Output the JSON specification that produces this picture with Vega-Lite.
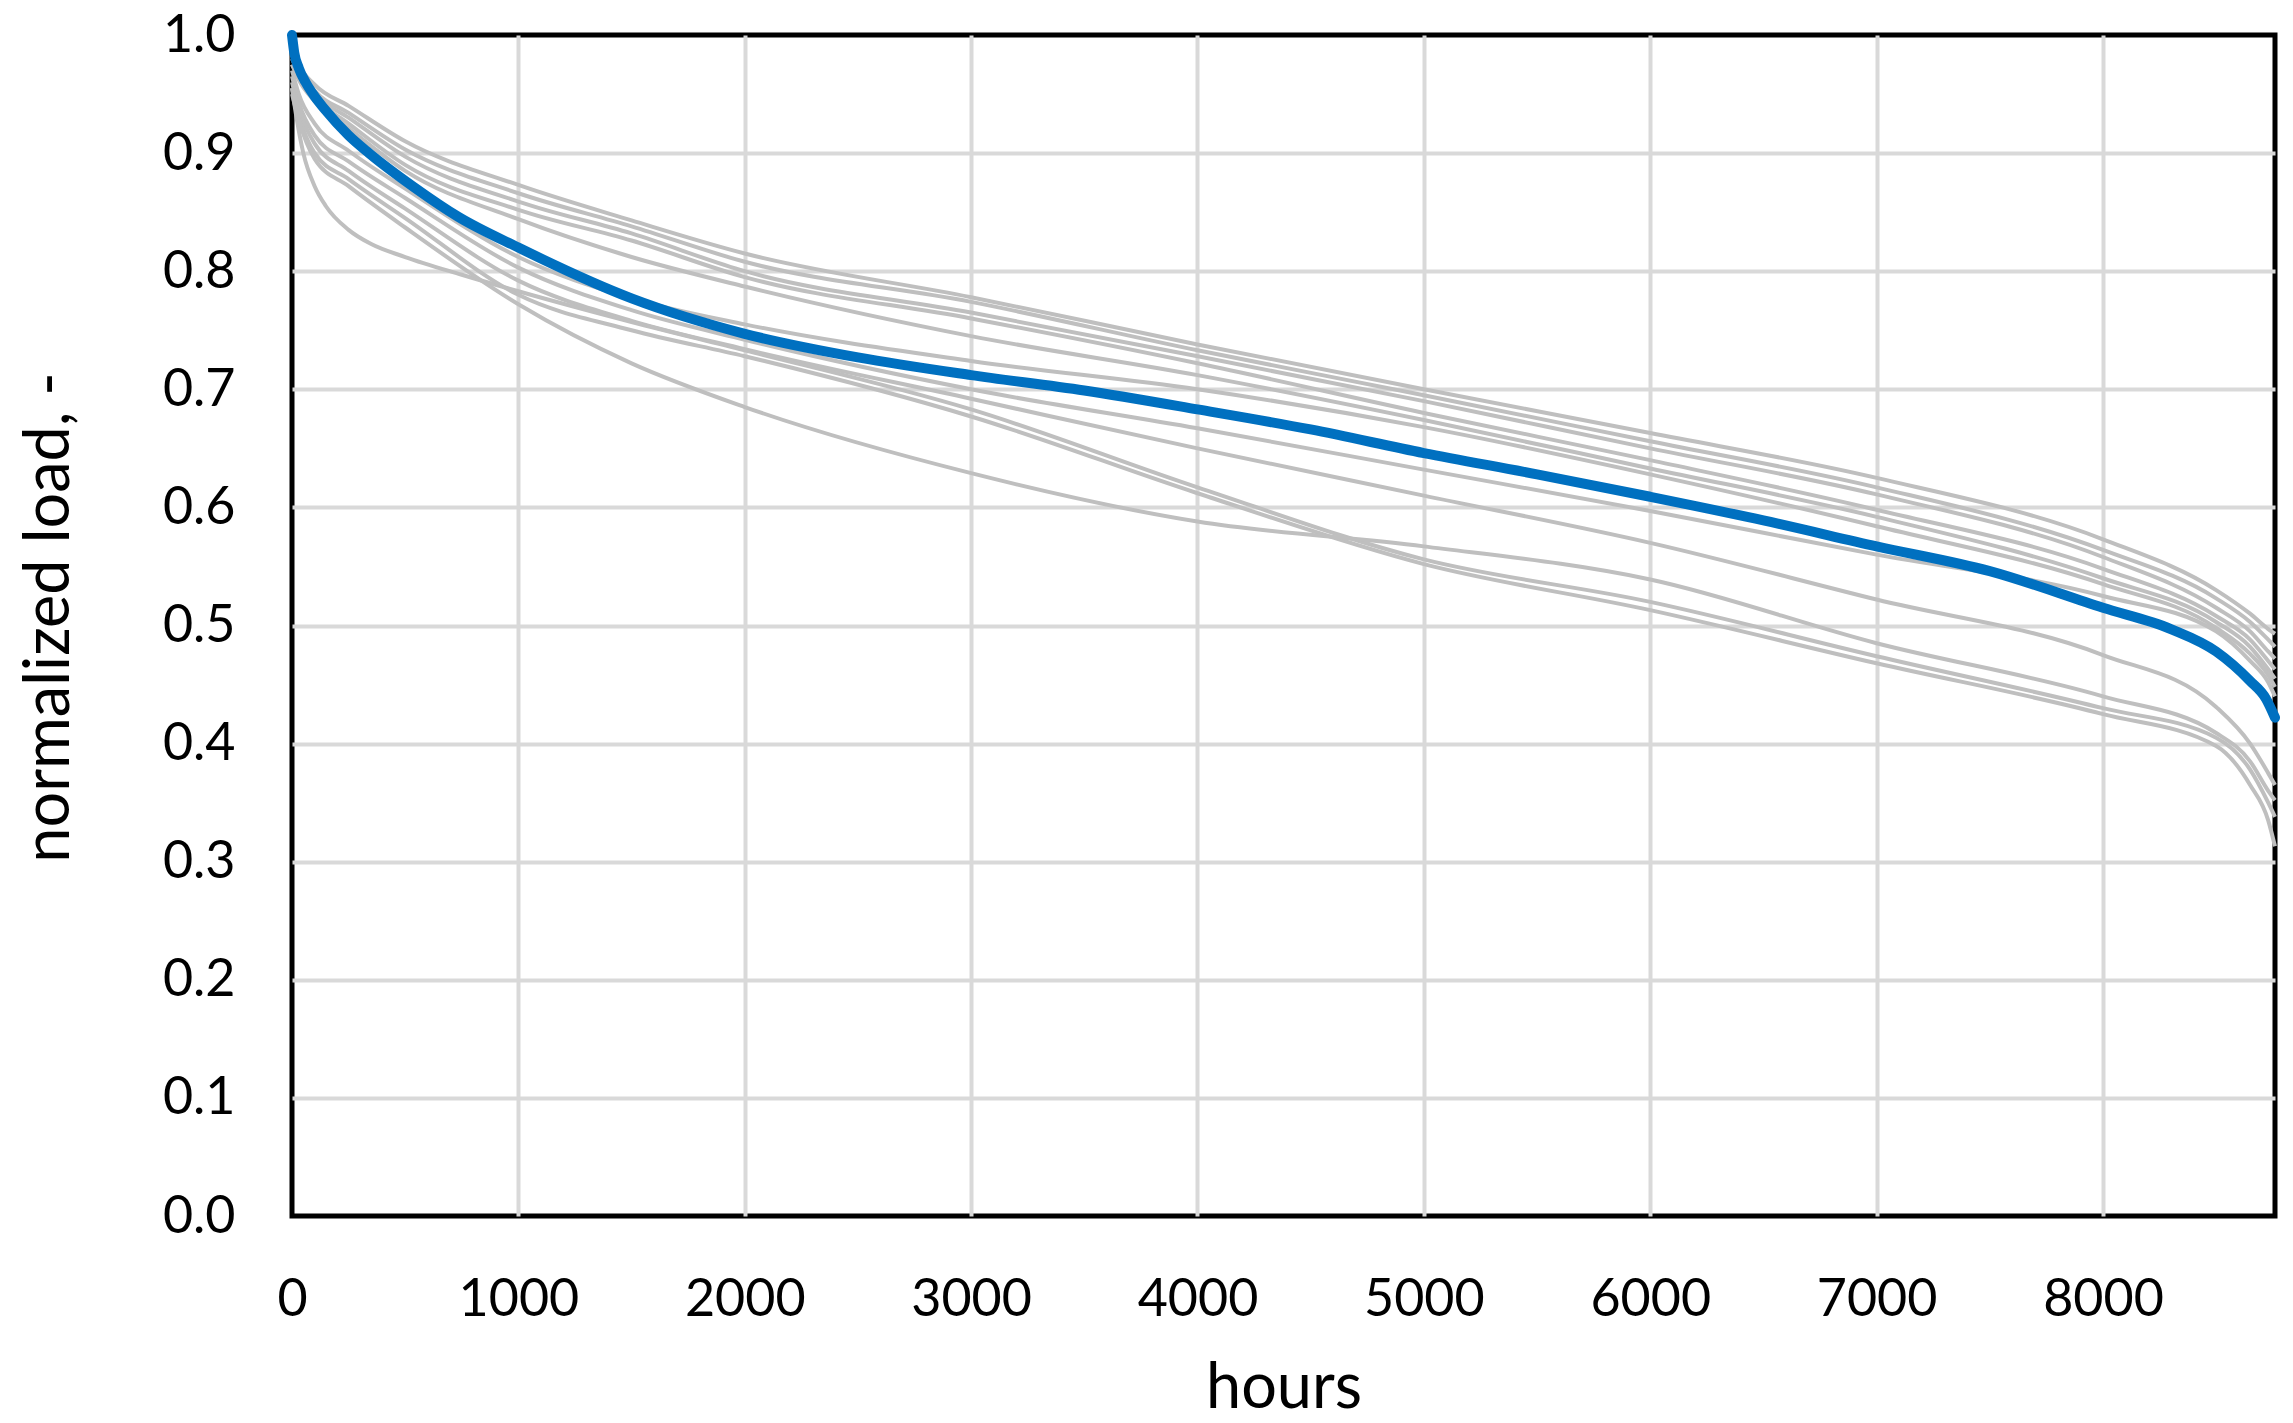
{
  "$schema": "https://vega.github.io/schema/vega-lite/v6.json",
  "width": 1983,
  "height": 1181,
  "autosize": {"type": "none"},
  "padding": {"left": 292, "top": 35, "right": 18, "bottom": 207},
  "background": "white",
  "datasets": {
    "gray": [
      {"s": "A", "h": 0, "v": 0.99}, {"s": "A", "h": 30, "v": 0.975}, {"s": "A", "h": 100, "v": 0.958}, {"s": "A", "h": 250, "v": 0.94}, {"s": "A", "h": 500, "v": 0.91}, {"s": "A", "h": 1000, "v": 0.873}, {"s": "A", "h": 1500, "v": 0.843}, {"s": "A", "h": 2000, "v": 0.815}, {"s": "A", "h": 3000, "v": 0.778}, {"s": "A", "h": 4000, "v": 0.738}, {"s": "A", "h": 5000, "v": 0.7}, {"s": "A", "h": 6000, "v": 0.663}, {"s": "A", "h": 7000, "v": 0.625}, {"s": "A", "h": 8000, "v": 0.573}, {"s": "A", "h": 8500, "v": 0.53}, {"s": "A", "h": 8650, "v": 0.51}, {"s": "A", "h": 8730, "v": 0.497}, {"s": "A", "h": 8760, "v": 0.493},
      {"s": "B", "h": 0, "v": 0.985}, {"s": "B", "h": 30, "v": 0.972}, {"s": "B", "h": 100, "v": 0.953}, {"s": "B", "h": 250, "v": 0.934}, {"s": "B", "h": 500, "v": 0.903}, {"s": "B", "h": 1000, "v": 0.866}, {"s": "B", "h": 1500, "v": 0.838}, {"s": "B", "h": 2000, "v": 0.808}, {"s": "B", "h": 3000, "v": 0.774}, {"s": "B", "h": 4000, "v": 0.733}, {"s": "B", "h": 5000, "v": 0.695}, {"s": "B", "h": 6000, "v": 0.656}, {"s": "B", "h": 7000, "v": 0.617}, {"s": "B", "h": 8000, "v": 0.564}, {"s": "B", "h": 8500, "v": 0.523}, {"s": "B", "h": 8650, "v": 0.503}, {"s": "B", "h": 8730, "v": 0.488}, {"s": "B", "h": 8760, "v": 0.482},
      {"s": "C", "h": 0, "v": 0.98}, {"s": "C", "h": 30, "v": 0.968}, {"s": "C", "h": 100, "v": 0.95}, {"s": "C", "h": 250, "v": 0.93}, {"s": "C", "h": 500, "v": 0.897}, {"s": "C", "h": 1000, "v": 0.859}, {"s": "C", "h": 1500, "v": 0.832}, {"s": "C", "h": 2000, "v": 0.8}, {"s": "C", "h": 3000, "v": 0.765}, {"s": "C", "h": 4000, "v": 0.728}, {"s": "C", "h": 5000, "v": 0.69}, {"s": "C", "h": 6000, "v": 0.65}, {"s": "C", "h": 7000, "v": 0.611}, {"s": "C", "h": 8000, "v": 0.558}, {"s": "C", "h": 8500, "v": 0.515}, {"s": "C", "h": 8650, "v": 0.495}, {"s": "C", "h": 8730, "v": 0.478}, {"s": "C", "h": 8760, "v": 0.472},
      {"s": "D", "h": 0, "v": 0.975}, {"s": "D", "h": 30, "v": 0.965}, {"s": "D", "h": 100, "v": 0.947}, {"s": "D", "h": 250, "v": 0.925}, {"s": "D", "h": 500, "v": 0.89}, {"s": "D", "h": 1000, "v": 0.852}, {"s": "D", "h": 1500, "v": 0.826}, {"s": "D", "h": 2000, "v": 0.795}, {"s": "D", "h": 3000, "v": 0.76}, {"s": "D", "h": 4000, "v": 0.722}, {"s": "D", "h": 5000, "v": 0.68}, {"s": "D", "h": 6000, "v": 0.64}, {"s": "D", "h": 7000, "v": 0.598}, {"s": "D", "h": 8000, "v": 0.548}, {"s": "D", "h": 8500, "v": 0.508}, {"s": "D", "h": 8650, "v": 0.488}, {"s": "D", "h": 8730, "v": 0.47}, {"s": "D", "h": 8760, "v": 0.463},
      {"s": "E", "h": 0, "v": 0.975}, {"s": "E", "h": 30, "v": 0.962}, {"s": "E", "h": 100, "v": 0.944}, {"s": "E", "h": 250, "v": 0.921}, {"s": "E", "h": 500, "v": 0.885}, {"s": "E", "h": 1000, "v": 0.844}, {"s": "E", "h": 1500, "v": 0.812}, {"s": "E", "h": 2000, "v": 0.787}, {"s": "E", "h": 3000, "v": 0.745}, {"s": "E", "h": 4000, "v": 0.712}, {"s": "E", "h": 5000, "v": 0.674}, {"s": "E", "h": 6000, "v": 0.633}, {"s": "E", "h": 7000, "v": 0.592}, {"s": "E", "h": 8000, "v": 0.54}, {"s": "E", "h": 8500, "v": 0.503}, {"s": "E", "h": 8650, "v": 0.482}, {"s": "E", "h": 8730, "v": 0.463}, {"s": "E", "h": 8760, "v": 0.455},
      {"s": "F", "h": 0, "v": 0.97}, {"s": "F", "h": 30, "v": 0.95}, {"s": "F", "h": 100, "v": 0.925}, {"s": "F", "h": 250, "v": 0.902}, {"s": "F", "h": 500, "v": 0.87}, {"s": "F", "h": 1000, "v": 0.812}, {"s": "F", "h": 1500, "v": 0.777}, {"s": "F", "h": 2000, "v": 0.755}, {"s": "F", "h": 3000, "v": 0.724}, {"s": "F", "h": 4000, "v": 0.7}, {"s": "F", "h": 5000, "v": 0.668}, {"s": "F", "h": 6000, "v": 0.628}, {"s": "F", "h": 7000, "v": 0.584}, {"s": "F", "h": 8000, "v": 0.535}, {"s": "F", "h": 8500, "v": 0.498}, {"s": "F", "h": 8650, "v": 0.476}, {"s": "F", "h": 8730, "v": 0.458}, {"s": "F", "h": 8760, "v": 0.448},
      {"s": "G", "h": 0, "v": 0.965}, {"s": "G", "h": 30, "v": 0.943}, {"s": "G", "h": 100, "v": 0.915}, {"s": "G", "h": 250, "v": 0.893}, {"s": "G", "h": 500, "v": 0.862}, {"s": "G", "h": 1000, "v": 0.803}, {"s": "G", "h": 1500, "v": 0.767}, {"s": "G", "h": 2000, "v": 0.742}, {"s": "G", "h": 3000, "v": 0.7}, {"s": "G", "h": 4000, "v": 0.667}, {"s": "G", "h": 5000, "v": 0.632}, {"s": "G", "h": 6000, "v": 0.597}, {"s": "G", "h": 7000, "v": 0.56}, {"s": "G", "h": 8000, "v": 0.525}, {"s": "G", "h": 8500, "v": 0.495}, {"s": "G", "h": 8650, "v": 0.47}, {"s": "G", "h": 8730, "v": 0.452}, {"s": "G", "h": 8760, "v": 0.44},
      {"s": "H", "h": 0, "v": 0.96}, {"s": "H", "h": 30, "v": 0.938}, {"s": "H", "h": 100, "v": 0.908}, {"s": "H", "h": 250, "v": 0.885}, {"s": "H", "h": 500, "v": 0.853}, {"s": "H", "h": 1000, "v": 0.792}, {"s": "H", "h": 1500, "v": 0.758}, {"s": "H", "h": 2000, "v": 0.734}, {"s": "H", "h": 3000, "v": 0.692}, {"s": "H", "h": 4000, "v": 0.65}, {"s": "H", "h": 5000, "v": 0.61}, {"s": "H", "h": 6000, "v": 0.57}, {"s": "H", "h": 7000, "v": 0.522}, {"s": "H", "h": 8000, "v": 0.475}, {"s": "H", "h": 8500, "v": 0.431}, {"s": "H", "h": 8650, "v": 0.4}, {"s": "H", "h": 8730, "v": 0.375}, {"s": "H", "h": 8760, "v": 0.365},
      {"s": "I", "h": 0, "v": 0.955}, {"s": "I", "h": 20, "v": 0.93}, {"s": "I", "h": 50, "v": 0.9}, {"s": "I", "h": 100, "v": 0.872}, {"s": "I", "h": 150, "v": 0.855}, {"s": "I", "h": 250, "v": 0.835}, {"s": "I", "h": 350, "v": 0.823}, {"s": "I", "h": 500, "v": 0.812}, {"s": "I", "h": 750, "v": 0.797}, {"s": "I", "h": 1000, "v": 0.783}, {"s": "I", "h": 1500, "v": 0.757}, {"s": "I", "h": 2000, "v": 0.733}, {"s": "I", "h": 3000, "v": 0.683}, {"s": "I", "h": 4000, "v": 0.617}, {"s": "I", "h": 5000, "v": 0.556}, {"s": "I", "h": 6000, "v": 0.52}, {"s": "I", "h": 7000, "v": 0.474}, {"s": "I", "h": 8000, "v": 0.43}, {"s": "I", "h": 8500, "v": 0.405}, {"s": "I", "h": 8650, "v": 0.378}, {"s": "I", "h": 8730, "v": 0.35}, {"s": "I", "h": 8760, "v": 0.338},
      {"s": "J", "h": 0, "v": 0.955}, {"s": "J", "h": 30, "v": 0.932}, {"s": "J", "h": 100, "v": 0.9}, {"s": "J", "h": 250, "v": 0.878}, {"s": "J", "h": 500, "v": 0.845}, {"s": "J", "h": 1000, "v": 0.78}, {"s": "J", "h": 1500, "v": 0.75}, {"s": "J", "h": 2000, "v": 0.728}, {"s": "J", "h": 3000, "v": 0.677}, {"s": "J", "h": 4000, "v": 0.612}, {"s": "J", "h": 5000, "v": 0.552}, {"s": "J", "h": 6000, "v": 0.513}, {"s": "J", "h": 7000, "v": 0.468}, {"s": "J", "h": 8000, "v": 0.425}, {"s": "J", "h": 8500, "v": 0.398}, {"s": "J", "h": 8650, "v": 0.365}, {"s": "J", "h": 8730, "v": 0.335}, {"s": "J", "h": 8760, "v": 0.313},
      {"s": "K", "h": 0, "v": 0.95}, {"s": "K", "h": 30, "v": 0.928}, {"s": "K", "h": 100, "v": 0.895}, {"s": "K", "h": 250, "v": 0.872}, {"s": "K", "h": 500, "v": 0.837}, {"s": "K", "h": 1000, "v": 0.772}, {"s": "K", "h": 1500, "v": 0.722}, {"s": "K", "h": 2000, "v": 0.685}, {"s": "K", "h": 3000, "v": 0.629}, {"s": "K", "h": 4000, "v": 0.588}, {"s": "K", "h": 5000, "v": 0.567}, {"s": "K", "h": 6000, "v": 0.539}, {"s": "K", "h": 7000, "v": 0.485}, {"s": "K", "h": 8000, "v": 0.44}, {"s": "K", "h": 8500, "v": 0.409}, {"s": "K", "h": 8650, "v": 0.385}, {"s": "K", "h": 8730, "v": 0.36}, {"s": "K", "h": 8760, "v": 0.352}
    ],
    "mean": [
      {"h": 0, "v": 1.0}, {"h": 10, "v": 0.985}, {"h": 30, "v": 0.972}, {"h": 60, "v": 0.96}, {"h": 100, "v": 0.948}, {"h": 145, "v": 0.937}, {"h": 250, "v": 0.915}, {"h": 340, "v": 0.9}, {"h": 540, "v": 0.871}, {"h": 735, "v": 0.846}, {"h": 1000, "v": 0.82}, {"h": 1500, "v": 0.777}, {"h": 2000, "v": 0.747}, {"h": 2500, "v": 0.727}, {"h": 3000, "v": 0.712}, {"h": 3500, "v": 0.699}, {"h": 4000, "v": 0.683}, {"h": 4500, "v": 0.666}, {"h": 5000, "v": 0.646}, {"h": 5500, "v": 0.628}, {"h": 6000, "v": 0.609}, {"h": 6500, "v": 0.589}, {"h": 7000, "v": 0.567}, {"h": 7500, "v": 0.546}, {"h": 8000, "v": 0.515}, {"h": 8300, "v": 0.497}, {"h": 8500, "v": 0.478}, {"h": 8650, "v": 0.453}, {"h": 8720, "v": 0.438}, {"h": 8760, "v": 0.422}
    ]
  },
  "encoding": {
    "x": {
      "field": "h",
      "type": "quantitative",
      "scale": {"domain": [0, 8760], "nice": false, "zero": false},
      "axis": {
        "title": "hours",
        "values": [0, 1000, 2000, 3000, 4000, 5000, 6000, 7000, 8000],
        "format": "d",
        "titleY": 191,
        "labelPadding": 58,
        "gridOpacity": {"condition": {"test": "datum.value === 0", "value": 0}, "value": 1}
      }
    },
    "y": {
      "field": "v",
      "type": "quantitative",
      "scale": {"domain": [0, 1], "nice": false},
      "axis": {
        "title": "normalized load, -",
        "values": [0, 0.1, 0.2, 0.3, 0.4, 0.5, 0.6, 0.7, 0.8, 0.9, 1.0],
        "format": ".1f",
        "titleX": -224,
        "titleY": 582,
        "titleAlign": "center",
        "labelPadding": 57,
        "gridOpacity": {"condition": {"test": "datum.value === 0 || datum.value === 1", "value": 0}, "value": 1}
      }
    }
  },
  "layer": [
    {
      "data": {"name": "gray"},
      "mark": {"type": "line", "color": "#bfbfbf", "strokeWidth": 4, "interpolate": "monotone"},
      "encoding": {"detail": {"field": "s", "type": "nominal"}}
    },
    {
      "data": {"name": "mean"},
      "mark": {"type": "line", "color": "#0070c0", "strokeWidth": 10, "interpolate": "monotone", "strokeCap": "round"},
      "encoding": {}
    }
  ],
  "config": {
    "font": "Lato",
    "view": {"stroke": "#000000", "strokeWidth": 5},
    "axis": {
      "ticks": false,
      "tickSize": 0,
      "domain": false,
      "grid": true,
      "gridColor": "#d9d9d9",
      "gridWidth": 4,
      "labelFont": "Lato",
      "labelFontSize": 52,
      "labelColor": "#000000",
      "labelFlush": false,
      "labelOverlap": false,
      "titleFont": "Lato",
      "titleFontSize": 63,
      "titleFontWeight": "normal",
      "titleColor": "#000000",
      "titleBaseline": "alphabetic",
      "titlePadding": 0
    }
  }
}
